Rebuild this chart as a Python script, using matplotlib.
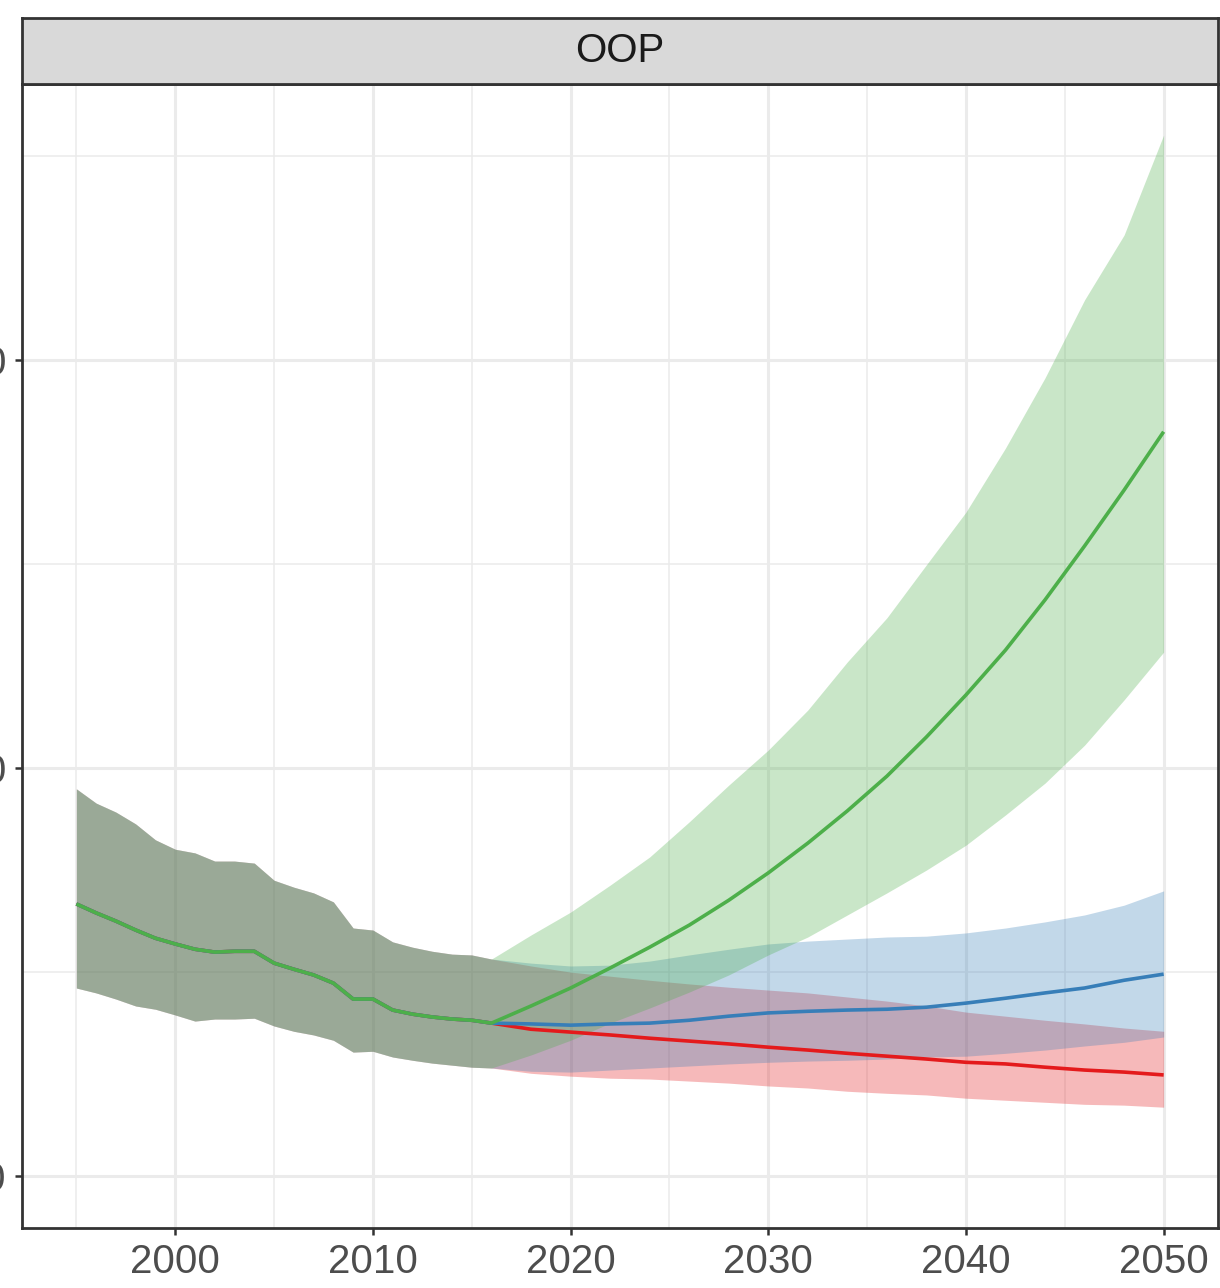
import numpy as np
import matplotlib
matplotlib.use("Agg")
import matplotlib.pyplot as plt
from matplotlib.ticker import MultipleLocator

plt.rcParams['font.family'] = ['Liberation Sans', 'DejaVu Sans']

# historical years (shared by all scenarios)
hist_years = list(range(1995, 2017))
hist_mean = [166.7, 164.5, 162.5, 160.3, 158.3, 156.9, 155.6, 154.9, 155.1, 155.1, 152.2,
             150.7, 149.3, 147.3, 143.4, 143.4, 140.7, 139.7, 139.0, 138.5, 138.2, 137.5]
hist_upper = [194.9, 191.4, 189.2, 186.3, 182.4, 180.1, 179.2, 177.2, 177.2, 176.7, 172.5,
              170.8, 169.4, 167.2, 160.8, 160.3, 157.4, 156.1, 155.1, 154.4, 154.2, 153.2]
hist_lower = [146.1, 144.9, 143.4, 141.7, 140.9, 139.5, 138.0, 138.5, 138.5, 138.7, 136.8,
              135.5, 134.6, 133.3, 130.4, 130.6, 129.2, 128.4, 127.7, 127.2, 126.7, 126.5]

# projections
proj_years = list(range(2016, 2051, 2))

red_mean = [137.5, 136.0, 135.3, 134.6, 133.8, 133.1, 132.4, 131.6, 130.9, 130.1, 129.4,
            128.7, 127.9, 127.5, 126.7, 126.0, 125.5, 124.8]
red_upper = [153.2, 151.5, 150.0, 149.0, 148.0, 147.1, 146.3, 145.6, 144.9, 143.9, 142.9,
             141.7, 140.2, 139.2, 138.2, 137.3, 136.3, 135.5]
red_lower = [126.5, 125.2, 124.5, 124.0, 123.8, 123.3, 122.8, 122.1, 121.6, 120.8, 120.3,
             119.9, 119.1, 118.6, 118.1, 117.6, 117.4, 116.9]

blue_mean = [137.5, 137.3, 137.0, 137.3, 137.5, 138.2, 139.2, 140.0, 140.4, 140.7, 140.9,
             141.4, 142.4, 143.6, 144.9, 146.1, 148.0, 149.5]
blue_upper = [153.2, 152.2, 151.5, 151.7, 152.7, 154.2, 155.6, 156.9, 157.6, 158.1, 158.6,
              158.8, 159.6, 160.8, 162.3, 164.0, 166.4, 169.9]
blue_lower = [126.5, 125.7, 125.5, 126.0, 126.5, 127.0, 127.5, 127.9, 128.2, 128.4, 128.7,
              129.2, 129.4, 130.1, 130.9, 131.9, 132.8, 134.1]

green_mean = [137.5, 141.7, 146.1, 151.0, 156.1, 161.5, 167.6, 174.3, 181.6, 189.5, 198.0,
              207.6, 217.9, 228.9, 241.2, 254.4, 268.1, 282.4]
green_upper = [153.2, 159.1, 164.7, 171.3, 178.2, 186.8, 195.8, 204.4, 214.2, 226.0, 236.8,
               249.8, 262.7, 278.4, 295.6, 314.7, 330.6, 355.1]
green_lower = [126.5, 129.7, 133.3, 137.5, 141.2, 145.1, 149.3, 154.2, 158.6, 164.0, 169.4,
               175.0, 181.1, 188.5, 196.3, 205.6, 216.7, 228.4]

scenarios = [
    ("#E41A1C", red_mean, red_lower, red_upper),
    ("#377EB8", blue_mean, blue_lower, blue_upper),
    ("#4DAF4A", green_mean, green_lower, green_upper),
]

W, H = 1220, 1288
fig = plt.figure(figsize=(W / 100, H / 100), dpi=100)
ax = fig.add_axes([22 / W, 1 - 1228 / H, 1196 / W, 1144 / H])

years = hist_years + proj_years[1:]
for col, m, lo, up in scenarios:
    ax.fill_between(years, hist_lower + lo[1:], hist_upper + up[1:],
                    color=col, alpha=0.3, linewidth=0, zorder=2)
for col, m, lo, up in scenarios:
    ax.plot(years, hist_mean + m[1:], color=col, linewidth=2.6, zorder=3,
            solid_capstyle='butt')

ax.set_xlim(1992.25, 2052.75)
ax.set_ylim(87.3, 367.6)
ax.xaxis.set_major_locator(MultipleLocator(10))
ax.xaxis.set_minor_locator(MultipleLocator(5))
ax.yaxis.set_major_locator(MultipleLocator(100))
ax.yaxis.set_minor_locator(MultipleLocator(50))
ax.grid(which='major', color='#EBEBEB', linewidth=2.2, zorder=0)
ax.grid(which='minor', color='#EBEBEB', linewidth=1.1, zorder=0)
ax.set_axisbelow(True)

ax.tick_params(which='major', length=5, width=1.8, color='#333333',
               labelsize=29, labelcolor='#4D4D4D', pad=6)
ax.tick_params(which='minor', length=0)
for s in ax.spines.values():
    s.set_color('#333333')
    s.set_linewidth(2.0)

# facet strip
strip = fig.add_axes([22 / W, 1 - 84 / H, 1196 / W, 66 / H])
strip.set_facecolor('#D9D9D9')
strip.set_xticks([])
strip.set_yticks([])
for s in strip.spines.values():
    s.set_color('#333333')
    s.set_linewidth(2.0)
strip.text(0.5, 0.5, "OOP", ha='center', va='center', fontsize=29,
           color='#1A1A1A', transform=strip.transAxes)

fig.savefig("out.png", dpi=100)
